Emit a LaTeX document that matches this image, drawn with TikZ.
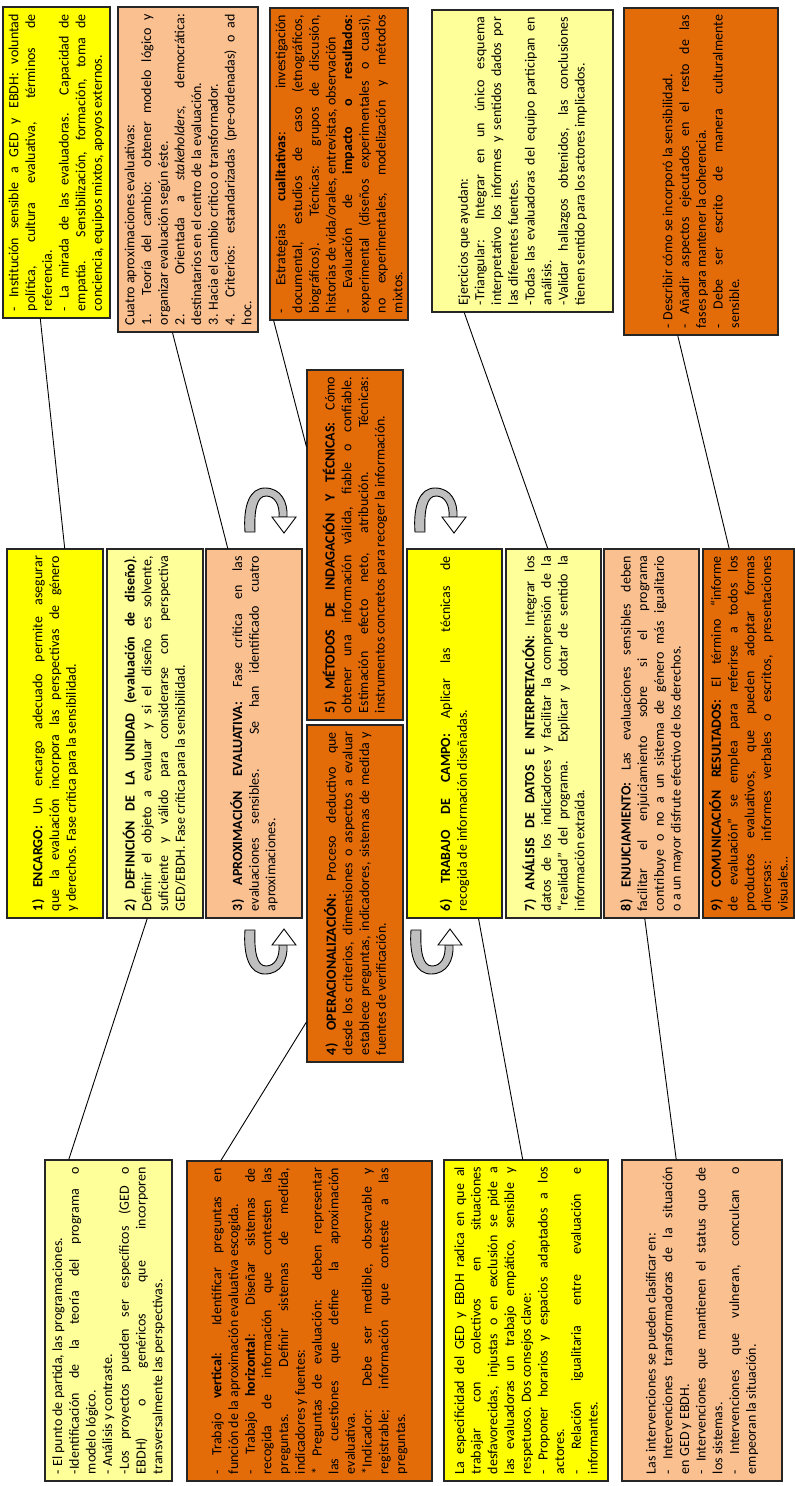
\documentclass[tikz,border=0pt]{standalone}
\usepackage{fontspec}
\setmainfont{Carlito}
\usetikzlibrary{calc}
\definecolor{cyel}{HTML}{FFFF00}
\definecolor{clyel}{HTML}{FFFF99}
\definecolor{cpeach}{HTML}{FAC090}
\definecolor{corange}{HTML}{E36C09}
\definecolor{cgray}{HTML}{BFBFBF}
\tikzset{
  rbox/.style={draw=black!85, line width=1.1pt, rotate=90, inner sep=0pt,
    font=\fontsize{14}{16.7}\selectfont},
  conn/.style={draw=black, line width=0.9pt},
  uarr/.pic={
    \filldraw[fill=cgray, draw=black, line width=0.9pt]
      (0,44) .. controls (-2,17) and (5,0) .. (20,0)
      .. controls (36,0) and (43,14) .. (42,29) -- (34,29)
      .. controls (35,17) and (30,8) .. (21,8)
      .. controls (12,8) and (9,22) .. (10,44) -- cycle;
    \filldraw[fill=white, draw=black, line width=0.9pt]
      (27,29) -- (51,29) -- (39,45) -- cycle;
  }
}
\newcommand{\rbx}[7]{%
\node[rbox, fill=#6, minimum width={(#5-#4)*1pt}, minimum height={(#3-#2)*1pt}] (#1) at ({(#2+#3)/2},{(#4+#5)/2})
{\parbox{\dimexpr #5pt-#4pt-14pt\relax}{\sloppy #7}};}
\begin{document}
\begin{tikzpicture}[x=1pt, y=-1pt]
\fill[white] (0,0) rectangle (795,1486);
\useasboundingbox (0,0) rectangle (795,1486);

% top row
\rbx{inst}{3}{110}{7}{318}{cyel}{- Institución sensible a GED y EBDH: voluntad\linebreak política, cultura evaluativa, términos de\linebreak referencia.\par - La mirada de las evaluadoras. Capacidad de\linebreak empatía. Sensibilización, formación, toma de\linebreak conciencia, equipos mixtos, apoyos externos.}
\rbx{cuatro}{118}{258}{7}{332}{cpeach}{Cuatro aproximaciones evaluativas:\par 1. Teoría del cambio: obtener modelo lógico y\linebreak organizar evaluación según éste.\par 2. Orientada a \textit{stakeholders}, democrática:\linebreak destinatarios en el centro de la evaluación.\par 3. Hacia el cambio crítico o transformador.\par 4. Criterios: estandarizadas (pre-ordenadas) o ad\linebreak hoc.}
\rbx{estrat}{270}{408}{8}{320}{corange}{- Estrategias \textbf{cualitativas}: investigación\linebreak documental, estudios de caso (etnográficos,\linebreak biográficos). Técnicas: grupos de discusión,\linebreak historias de vida/orales, entrevistas, observación\par - Evaluación de \textbf{impacto o resultados}:\linebreak experimental (diseños experimentales o cuasi),\linebreak no experimentales, modelización y métodos\linebreak mixtos.}
\rbx{ejerc}{432}{613}{10}{312}{clyel}{Ejercicios que ayudan:\par -Triangular: Integrar en un único esquema\linebreak interpretativo los informes y sentidos dados por\linebreak las diferentes fuentes.\par -Todas las evaluadoras del equipo participan en\linebreak análisis.\par -Validar hallazgos obtenidos, las conclusiones\linebreak tienen sentido para los actores implicados.}
\rbx{descr}{624}{778}{8}{335}{corange}{- Describir cómo se incorporó la sensibilidad.\par - Añadir aspectos ejecutados en el resto de las\linebreak fases para mantener la coherencia.\par - Debe ser escrito de manera culturalmente\linebreak sensible.}

% middle
\rbx{b1}{7}{103}{549}{918}{cyel}{\textbf{1) ENCARGO:} Un encargo adecuado permite asegurar\linebreak que la evaluación incorpora las perspectivas de género\linebreak y derechos. Fase crítica para la sensibilidad.}
\rbx{b2}{107}{203}{549}{918}{clyel}{\textbf{2) DEFINICIÓN DE LA UNIDAD (evaluación de diseño)}.\linebreak Definir el objeto a evaluar y si el diseño es solvente,\linebreak suficiente y válido para considerarse con perspectiva\linebreak GED/EBDH. Fase crítica para la sensibilidad.}
\rbx{b3}{206}{302}{549}{918}{cpeach}{\textbf{3) APROXIMACIÓN EVALUATIVA:} Fase crítica en las\linebreak evaluaciones sensibles. Se han identificado cuatro\linebreak aproximaciones.}
\rbx{b5}{307}{403}{370}{720}{corange}{\textbf{5) MÉTODOS DE INDAGACIÓN Y TÉCNICAS:} Cómo\linebreak obtener una información válida, fiable o confiable.\linebreak Estimación efecto neto, atribución. Técnicas:\linebreak instrumentos concretos para recoger la información.}
\rbx{b4}{307}{403}{725}{1062}{corange}{\textbf{4) OPERACIONALIZACIÓN:} Proceso deductivo que\linebreak desde los criterios, dimensiones o aspectos a evaluar\linebreak establece preguntas, indicadores, sistemas de medida y\linebreak fuentes de verificación.}
\rbx{b6}{407}{502}{549}{918}{cyel}{\textbf{6) TRABAJO DE CAMPO:} Aplicar las técnicas de\linebreak recogida de información diseñadas.}
\rbx{b7}{506}{601}{549}{918}{clyel}{\textbf{7) ANÁLISIS DE DATOS E INTERPRETACIÓN:} Integrar los\linebreak datos de los indicadores y facilitar la comprensión de la\linebreak “realidad” del programa. Explicar y dotar de sentido la\linebreak información extraída.}
\rbx{b8}{604}{699}{549}{918}{cpeach}{\textbf{8) ENJUICIAMIENTO:} Las evaluaciones sensibles deben\linebreak facilitar el enjuiciamiento sobre si el programa\linebreak contribuye o no a un sistema de género más igualitario\linebreak o a un mayor disfrute efectivo de los derechos.}
\rbx{b9}{703}{794}{549}{918}{corange}{\textbf{9) COMUNICACIÓN RESULTADOS:} El término “informe\linebreak de evaluación” se emplea para referirse a todos los\linebreak productos evaluativos, que pueden adoptar formas\linebreak diversas: informes verbales o escritos, presentaciones\linebreak visuales…}

% bottom row
\rbx{punto}{45}{172}{1160}{1481}{clyel}{- El punto de partida, las programaciones.\par -Identificación de la teoría del programa o\linebreak modelo lógico.\par - Análisis y contraste.\par -Los proyectos pueden ser específicos (GED o\linebreak EBDH) o genéricos que incorporen\linebreak transversalmente las perspectivas.}
\rbx{trabajo}{187}{432}{1161}{1481}{corange}{- Trabajo \textbf{vertical}: Identificar preguntas en\linebreak función de la aproximación evaluativa escogida.\par - Trabajo \textbf{horizontal}: Diseñar sistemas de\linebreak recogida de información que contesten las\linebreak preguntas. Definir sistemas de medida,\linebreak indicadores y fuentes:\par * Preguntas de evaluación: deben representar\linebreak las cuestiones que define la aproximación\linebreak evaluativa.\par *Indicador: Debe ser medible, observable y\linebreak registrable; información que conteste a las\linebreak preguntas.}
\rbx{espec}{444}{608}{1160}{1481}{cyel}{La especificidad del GED y EBDH radica en que al\linebreak trabajar con colectivos en situaciones\linebreak desfavorecidas, injustas o en exclusión se pide a\linebreak las evaluadoras un trabajo empático, sensible y\linebreak respetuoso. Dos consejos clave:\par - Proponer horarios y espacios adaptados a los\linebreak actores.\par - Relación igualitaria entre evaluación e\linebreak informantes.}
\rbx{interv}{622}{782}{1160}{1481}{cpeach}{Las intervenciones se pueden clasificar en:\par - Intervenciones transformadoras de la situación\linebreak en GED y EBDH.\par - Intervenciones que mantienen el status quo de\linebreak los sistemas.\par - Intervenciones que vulneran, conculcan o\linebreak empeoran la situación.}

% connectors
\draw[conn] ($(b1.north east)!0.60!(b1.south east)$) -- ($(inst.north west)!0.35!(inst.south west)$);
\draw[conn] ($(b3.north east)!0.23!(b3.south east)$) -- ($(cuatro.north west)!0.39!(cuatro.south west)$);
\draw[conn] ($(b5.north west)!0.78!(b5.north east)$) -- ($(estrat.north west)!0.03!(estrat.south west)$);
\draw[conn] ($(b7.north east)!0.44!(b7.south east)$) -- ($(ejerc.north west)!0.18!(ejerc.south west)$);
\draw[conn] ($(b9.north east)!0.29!(b9.south east)$) -- ($(descr.north west)!0.35!(descr.south west)$);
\draw[conn] ($(punto.north east)!0.19!(punto.south east)$) -- ($(b2.north west)!0.42!(b2.south west)$);
\draw[conn] ($(trabajo.north east)!0.14!(trabajo.south east)$) -- ($(b4.north west)!0.12!(b4.north east)$);
\draw[conn] ($(espec.north east)!0.48!(espec.south east)$) -- ($(b6.north west)!0.75!(b6.south west)$);
\draw[conn] ($(interv.north east)!0.34!(interv.south east)$) -- ($(b8.north west)!0.43!(b8.south west)$);

% curved arrows
\pic at (245,488) {uarr};
\pic at (415,488) {uarr};
\pic[yscale=-1] at (245,974) {uarr};
\pic[yscale=-1] at (411,974) {uarr};
\end{tikzpicture}
\end{document}
